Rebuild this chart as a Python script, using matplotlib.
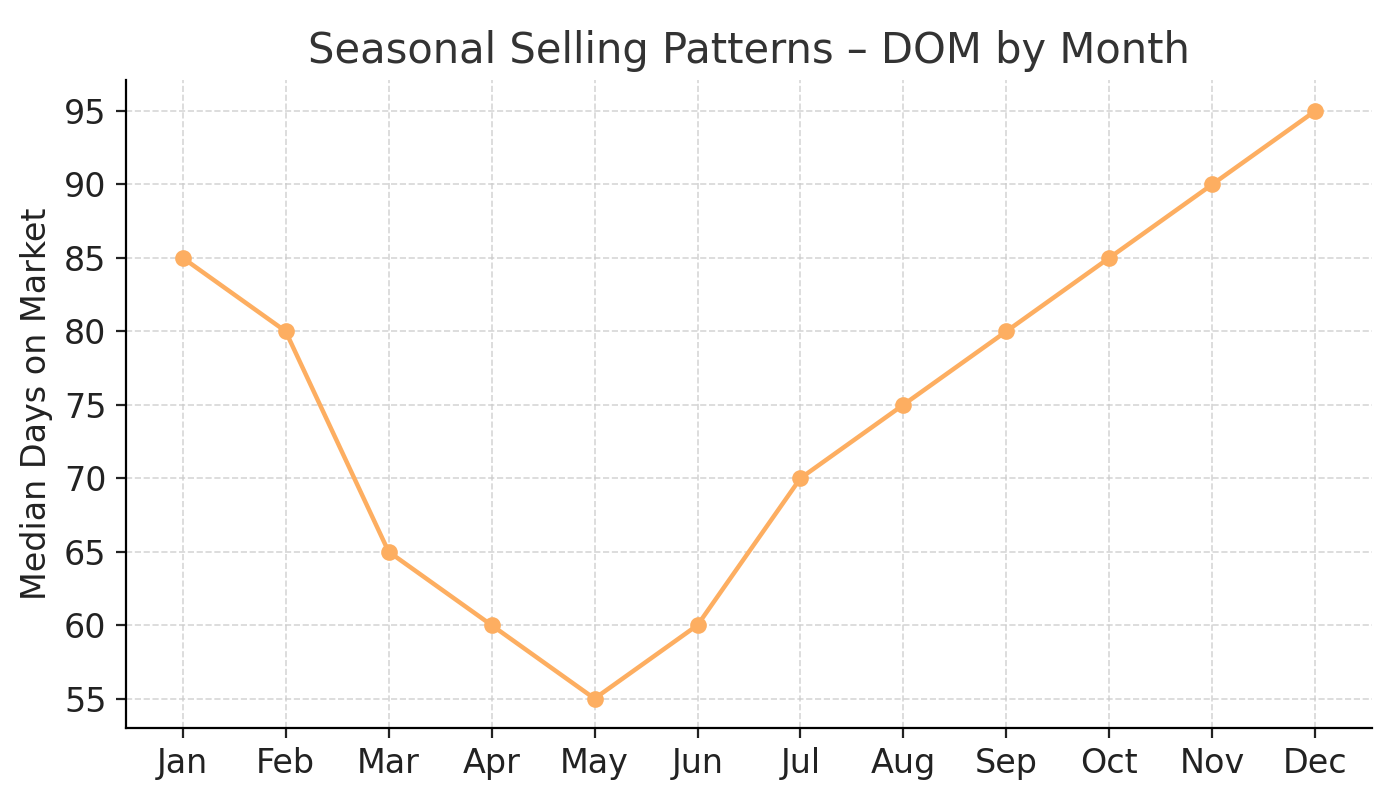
import matplotlib.pyplot as plt

months = ["Jan", "Feb", "Mar", "Apr", "May", "Jun", "Jul", "Aug", "Sep", "Oct", "Nov", "Dec"]
median_dom = [85, 80, 65, 60, 55, 60, 70, 75, 80, 85, 90, 95]

fig, ax = plt.subplots(figsize=(7, 4), dpi=200)
ax.plot(range(len(months)), median_dom, color="#fdae61", marker="o", markersize=5, linewidth=1.6)
ax.set_xticks(range(len(months)))
ax.set_xticklabels(months)
ax.set_xlim(-0.55, 11.55)
ax.set_ylim(53.0, 97.1)
ax.set_yticks(range(55, 96, 5))
ax.set_title("Seasonal Selling Patterns – DOM by Month", fontsize=15, color="#333333")
ax.set_ylabel("Median Days on Market", fontsize=12, color="#222222")
ax.tick_params(labelsize=12, colors="#222222")
ax.grid(True, linestyle="--", color="#cccccc", linewidth=0.6, alpha=0.8)
ax.spines["top"].set_visible(False)
ax.spines["right"].set_visible(False)
plt.subplots_adjust(left=0.09, right=0.98, top=0.9, bottom=0.09)
plt.savefig("out.png")
